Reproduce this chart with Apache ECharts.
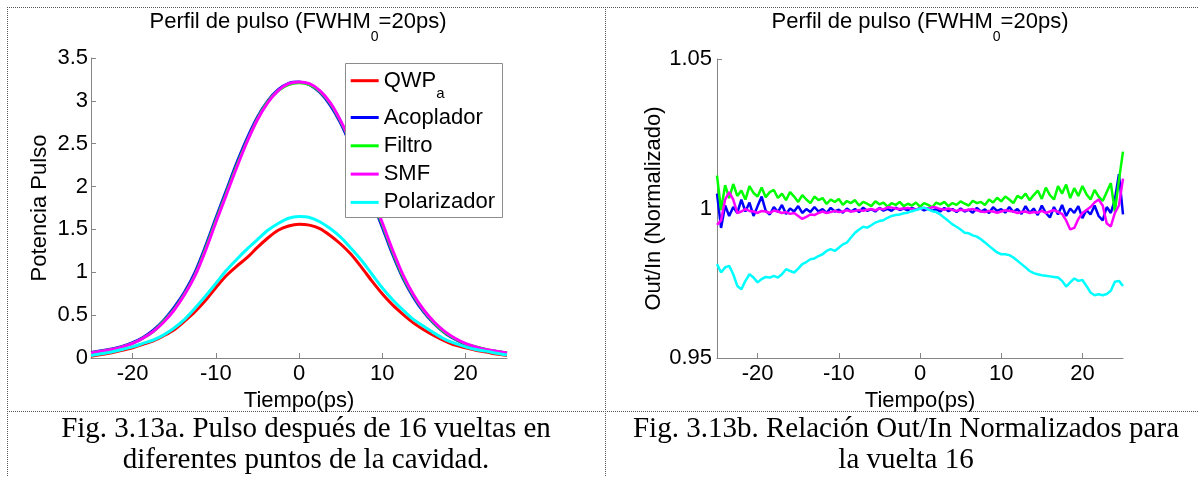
<!DOCTYPE html>
<html><head><meta charset="utf-8">
<script src="https://cdn.jsdelivr.net/npm/echarts@6/dist/echarts.min.js"></script>
<style>html,body{margin:0;padding:0;background:#fff;}#c{width:1198px;height:477px;}</style>
</head><body><div id="c"></div>
<script>
// ---------- DATA ----------
const seriesNames = ['QWPa', 'Acoplador', 'Filtro', 'SMF', 'Polarizador'];
const seriesColors = ['#ff0000', '#0000ff', '#00ff00', '#ff00ff', '#00ffff'];

// Fig a: pulse profile (ps vs power)
const timeA = [-25,-23.75,-22.5,-21.25,-20,-18.75,-17.5,-16.25,-15,-13.75,-12.5,-11.25,-10,-8.75,-7.5,-6.25,-5,-3.75,-2.5,-1.25,0,1.25,2.5,3.75,5,6.25,7.5,8.75,10,11.25,12.5,13.75,15,16.25,17.5,18.75,20,21.25,22.5,23.75,25];
const qwpA    = [0.02,0.04,0.06,0.09,0.12,0.16,0.20,0.26,0.33,0.43,0.54,0.67,0.82,0.96,1.07,1.17,1.29,1.40,1.49,1.54,1.56,1.55,1.51,1.43,1.33,1.21,1.06,0.90,0.75,0.62,0.51,0.41,0.33,0.26,0.20,0.15,0.12,0.09,0.07,0.045,0.03];
const acopA   = [0.065,0.085,0.105,0.135,0.18,0.24,0.325,0.44,0.59,0.77,1.00,1.30,1.63,1.95,2.27,2.56,2.81,3.00,3.13,3.205,3.22,3.19,3.10,2.95,2.74,2.47,2.16,1.84,1.53,1.21,0.93,0.71,0.535,0.40,0.295,0.22,0.16,0.125,0.095,0.075,0.055];
const filtroA = [0.06,0.08,0.10,0.13,0.17,0.23,0.31,0.43,0.57,0.75,0.97,1.27,1.60,1.92,2.24,2.53,2.79,2.99,3.12,3.19,3.21,3.19,3.11,2.97,2.76,2.50,2.19,1.87,1.56,1.24,0.95,0.73,0.55,0.41,0.30,0.225,0.165,0.13,0.10,0.075,0.06];
const smfA    = [0.06,0.08,0.10,0.13,0.17,0.23,0.31,0.42,0.56,0.74,0.96,1.25,1.58,1.90,2.22,2.52,2.78,2.98,3.12,3.20,3.22,3.20,3.12,2.98,2.77,2.51,2.21,1.89,1.58,1.26,0.97,0.74,0.56,0.42,0.31,0.23,0.17,0.13,0.10,0.08,0.06];
const polA    = [0.03,0.05,0.07,0.10,0.13,0.17,0.21,0.27,0.35,0.45,0.58,0.72,0.87,1.02,1.15,1.27,1.38,1.49,1.57,1.63,1.65,1.64,1.59,1.51,1.41,1.28,1.14,0.98,0.82,0.68,0.56,0.45,0.37,0.29,0.22,0.17,0.13,0.10,0.08,0.055,0.035];

// Fig b: Out/In normalized ratio
const timeB = [-25,-24.5,-24,-23.5,-23,-22.5,-22,-21.5,-21,-20.5,-20,-19.5,-19,-18.5,-18,-17.5,-17,-16.5,-16,-15.5,-15,-14.5,-14,-13.5,-13,-12.5,-12,-11.5,-11,-10.5,-10,-9.5,-9,-8.5,-8,-7.5,-7,-6.5,-6,-5.5,-5,-4.5,-4,-3.5,-3,-2.5,-2,-1.5,-1,-0.5,0,0.5,1,1.5,2,2.5,3,3.5,4,4.5,5,5.5,6,6.5,7,7.5,8,8.5,9,9.5,10,10.5,11,11.5,12,12.5,13,13.5,14,14.5,15,15.5,16,16.5,17,17.5,18,18.5,19,19.5,20,20.5,21,21.5,22,22.5,23,23.5,24,24.5,25];
const acopB = [1.0050,0.9935,1.0010,0.9975,1.0005,0.9985,1.0030,0.9990,1.0020,0.9975,1.0008,1.0040,0.9992,0.9980,1.0005,0.9988,1.0012,0.9982,1.0000,0.9990,1.0008,0.9985,0.9998,0.9988,1.0005,0.9990,0.9998,0.9985,1.0002,0.9990,0.9996,0.9986,1.0000,0.9990,0.9998,0.9988,1.0003,0.9992,0.9998,0.9990,1.0002,0.9993,0.9999,0.9992,1.0003,0.9995,1.0000,0.9994,1.0002,0.9996,1.0001,0.9994,1.0000,0.9992,0.9998,0.9990,1.0002,0.9991,0.9998,0.9988,1.0000,0.9990,0.9996,0.9986,1.0002,0.9990,0.9997,0.9985,1.0004,0.9992,0.9998,0.9986,1.0005,0.9988,0.9998,0.9982,1.0008,0.9985,1.0000,0.9978,1.0010,0.9985,0.9970,1.0005,0.9980,1.0012,0.9975,1.0000,0.9985,1.0008,0.9968,0.9995,0.9980,1.0010,0.9975,0.9960,1.0005,0.9985,1.0030,1.0115,0.9980];
const filtroB = [1.0110,0.9995,1.0078,1.0035,1.0082,1.0042,1.0060,1.0030,1.0075,1.0052,1.0040,1.0070,1.0038,1.0055,1.0062,1.0035,1.0050,1.0028,1.0055,1.0040,1.0022,1.0045,1.0030,1.0018,1.0040,1.0028,1.0035,1.0015,1.0030,1.0022,1.0032,1.0012,1.0025,1.0018,1.0028,1.0010,1.0022,1.0016,1.0008,1.0024,1.0014,1.0020,1.0006,1.0018,1.0012,1.0022,1.0008,1.0016,1.0010,1.0020,1.0006,1.0018,1.0012,1.0004,1.0020,1.0014,1.0022,1.0008,1.0018,1.0012,1.0024,1.0016,1.0010,1.0026,1.0018,1.0022,1.0012,1.0030,1.0020,1.0036,1.0024,1.0040,1.0030,1.0018,1.0042,1.0034,1.0050,1.0028,1.0045,1.0060,1.0032,1.0070,1.0045,1.0030,1.0075,1.0050,1.0080,1.0035,1.0068,1.0042,1.0075,1.0048,1.0030,1.0062,1.0040,1.0025,1.0055,1.0085,0.9990,1.0095,1.0190];
const smfB = [0.9945,0.9960,1.0030,1.0055,1.0030,0.9985,0.9990,0.9998,0.9992,0.9990,0.9985,0.9992,0.9990,0.9985,0.9993,0.9990,0.9985,0.9988,0.9982,0.9985,0.9975,0.9965,0.9972,0.9980,0.9978,0.9985,0.9990,0.9985,0.9988,0.9992,0.9988,0.9990,0.9994,0.9990,0.9992,0.9995,0.9992,0.9996,0.9998,0.9994,1.0000,0.9997,1.0004,1.0003,1.0000,0.9998,1.0000,1.0002,0.9998,0.9996,1.0000,1.0002,0.9998,1.0005,1.0003,0.9998,0.9996,1.0000,0.9995,0.9992,0.9996,0.9993,0.9996,0.9998,0.9994,0.9990,0.9988,0.9992,0.9990,0.9986,0.9990,0.9994,0.9992,0.9990,0.9985,0.9988,0.9990,0.9985,0.9988,0.9986,0.9992,0.9985,0.9990,0.9995,0.9988,0.9982,0.9960,0.9930,0.9935,0.9965,0.9985,0.9995,1.0005,1.0020,1.0030,1.0010,0.9950,0.9940,0.9985,1.0010,1.0100];
const polB = [0.9814,0.9786,0.9803,0.9808,0.9780,0.9741,0.9730,0.9758,0.9780,0.9769,0.9753,0.9764,0.9771,0.9769,0.9775,0.9769,0.9780,0.9797,0.9791,0.9786,0.9799,0.9814,0.9821,0.9830,0.9833,0.9841,0.9847,0.9858,0.9864,0.9858,0.9869,0.9880,0.9886,0.9903,0.9919,0.9930,0.9939,0.9936,0.9944,0.9953,0.9958,0.9961,0.9969,0.9975,0.9978,0.9980,0.9984,0.9986,0.9991,0.9995,0.9999,1.0003,0.9997,0.9991,0.9988,0.9980,0.9969,0.9958,0.9947,0.9939,0.9930,0.9919,0.9917,0.9910,0.9906,0.9897,0.9886,0.9875,0.9864,0.9853,0.9847,0.9847,0.9844,0.9836,0.9825,0.9814,0.9803,0.9791,0.9784,0.9780,0.9777,0.9775,0.9773,0.9771,0.9769,0.9758,0.9739,0.9753,0.9766,0.9758,0.9761,0.9741,0.9719,0.9710,0.9713,0.9710,0.9714,0.9725,0.9755,0.9758,0.9741];

// tick labels
const xTicks = [-20, -10, 0, 10, 20];
const yTicksA = [0, 0.5, 1, 1.5, 2, 2.5, 3, 3.5];
const yTicksB = [0.95, 1, 1.05];

// texts
const titleMain = 'Perfil de pulso (FWHM';
const titleSub = '0';
const titleEnd = '=20ps)';
const xName = 'Tiempo(ps)';
const yNameA = 'Potencia Pulso';
const yNameB = 'Out/In (Normalizado)';
const captionA = ['Fig. 3.13a. Pulso después de 16 vueltas en', 'diferentes puntos de la cavidad.'];
const captionB = ['Fig. 3.13b. Relación Out/In Normalizados para', 'la vuelta 16'];

// ---------- CHART ----------
const FONT = "'Liberation Sans', Arial, Helvetica, sans-serif";
const SERIF = "'Liberation Serif', 'Times New Roman', serif";
const AXC = '#858585';

function zip(xs, ys) { return xs.map((x, i) => [x, ys[i]]); }

function xAxisDef(g) {
  return {
    type: 'value', gridIndex: g, min: -25, max: 25,
    axisLine: { show: true, onZero: false, lineStyle: { color: AXC, width: 1 } },
    axisTick: { show: true, inside: true, length: 5, customValues: xTicks, lineStyle: { color: AXC } },
    axisLabel: { customValues: xTicks, color: '#000', fontFamily: FONT, fontSize: 22, margin: 5 },
    splitLine: { show: false },
    name: xName, nameLocation: 'middle', nameGap: 21,
    nameTextStyle: { color: '#000', fontFamily: FONT, fontSize: 22 }
  };
}
function yAxisDef(g, min, max, ticks, name, gap, lm) {
  return {
    type: 'value', gridIndex: g, min: min, max: max,
    axisLine: { show: true, onZero: false, lineStyle: { color: AXC, width: 1 } },
    axisTick: { show: true, inside: true, length: 5, customValues: ticks, lineStyle: { color: AXC } },
    axisLabel: { customValues: ticks, color: '#000', fontFamily: FONT, fontSize: 22, margin: lm },
    splitLine: { show: false },
    name: name, nameLocation: 'middle', nameGap: gap, nameRotate: 90,
    nameTextStyle: { color: '#000', fontFamily: FONT, fontSize: 22 }
  };
}

const dataA = [qwpA, acopA, filtroA, smfA, polA];
const seriesA = dataA.map((d, i) => ({
  name: seriesNames[i], type: 'line', xAxisIndex: 0, yAxisIndex: 0,
  data: zip(timeA, d), showSymbol: false, smooth: 0.3,
  lineStyle: { color: seriesColors[i], width: 3 }, itemStyle: { color: seriesColors[i] },
  emphasis: { disabled: true }, z: 2
}));
const dataB = [acopB, filtroB, smfB, polB];
const seriesB = dataB.map((d, i) => ({
  name: seriesNames[i + 1], type: 'line', xAxisIndex: 1, yAxisIndex: 1,
  data: zip(timeB, d), showSymbol: false, smooth: false,
  lineStyle: { color: seriesColors[i + 1], width: 2.5 }, itemStyle: { color: seriesColors[i + 1] },
  emphasis: { disabled: true }, z: 2
}));

function dotted(x1, y1, x2, y2) {
  return { type: 'line', shape: { x1: x1, y1: y1, x2: x2, y2: y2 }, silent: true,
    style: { stroke: '#555', lineWidth: 1, lineDash: [1, 1] } };
}
function titleText(cx) {
  return { type: 'text', x: cx, y: 11, silent: true,
    style: { text: '{a|' + titleMain + '}{b|' + titleSub + '}{a|' + titleEnd + '}',
      align: 'center', verticalAlign: 'top', textAlign: 'center', textVerticalAlign: 'top',
      fill: '#000',
      rich: {
        a: { fontSize: 22, fontFamily: FONT, lineHeight: 26, verticalAlign: 'top', fill: '#000' },
        b: { fontSize: 14, fontFamily: FONT, lineHeight: 14, padding: [19, 0, 0, 0], verticalAlign: 'top', fill: '#000' }
      } } };
}
function caption(cx, cy, t) {
  return { type: 'text', x: cx, y: cy, silent: true,
    style: { text: t, fontSize: 29, fontFamily: SERIF, fill: '#000',
      align: 'center', verticalAlign: 'middle', textAlign: 'center', textVerticalAlign: 'middle' } };
}

const legendCommon = {
  orient: 'vertical', left: 350.7, padding: 0, itemWidth: 28, itemHeight: 3, icon: 'rect',
  selectedMode: false, backgroundColor: 'transparent', borderWidth: 0
};

const option = {
  animation: false,
  backgroundColor: '#fff',
  grid: [
    { left: 91, top: 58, width: 416, height: 300 },
    { left: 717, top: 59, width: 406, height: 299 }
  ],
  xAxis: [xAxisDef(0), xAxisDef(1)],
  yAxis: [
    yAxisDef(0, 0, 3.5, yTicksA, yNameA, 40, 3),
    yAxisDef(1, 0.95, 1.05, yTicksB, yNameB, 52, 5)
  ],
  legend: [
    Object.assign({}, legendCommon, {
      data: [seriesNames[0]], top: 69.7,
      formatter: function () { return '{q|QWP}{s|a}'; },
      textStyle: { color: '#000', fontFamily: FONT, fontSize: 22,
        rich: {
          q: { fontSize: 22, fontFamily: FONT, lineHeight: 22, verticalAlign: 'top', color: '#000' },
          s: { fontSize: 15, fontFamily: FONT, lineHeight: 12, padding: [17, 0, 0, 0], verticalAlign: 'top', color: '#000' }
        } }
    }),
    Object.assign({}, legendCommon, {
      data: seriesNames.slice(1), top: 106.5, itemGap: 6.3,
      textStyle: { color: '#000', fontFamily: FONT, fontSize: 22 }
    })
  ],
  graphic: [
    dotted(7, 7.5, 1198, 7.5),
    dotted(7.5, 7, 7.5, 477),
    dotted(605.5, 7, 605.5, 477),
    dotted(7, 411.5, 1198, 411.5),
    { type: 'rect', z: 3, silent: true, shape: { x: 345.5, y: 63.5, width: 157, height: 154 },
      style: { fill: '#fff', stroke: '#8c8c8c', lineWidth: 1 } },
    titleText(298),
    titleText(920),
    caption(306, 429, captionA[0]),
    caption(306, 460, captionA[1]),
    caption(906, 429, captionB[0]),
    caption(906, 460, captionB[1])
  ],
  series: seriesA.concat(seriesB)
};

const chart = echarts.init(document.getElementById('c'), null, { renderer: 'canvas', width: 1198, height: 477 });
chart.setOption(option);
</script>
</body></html>
